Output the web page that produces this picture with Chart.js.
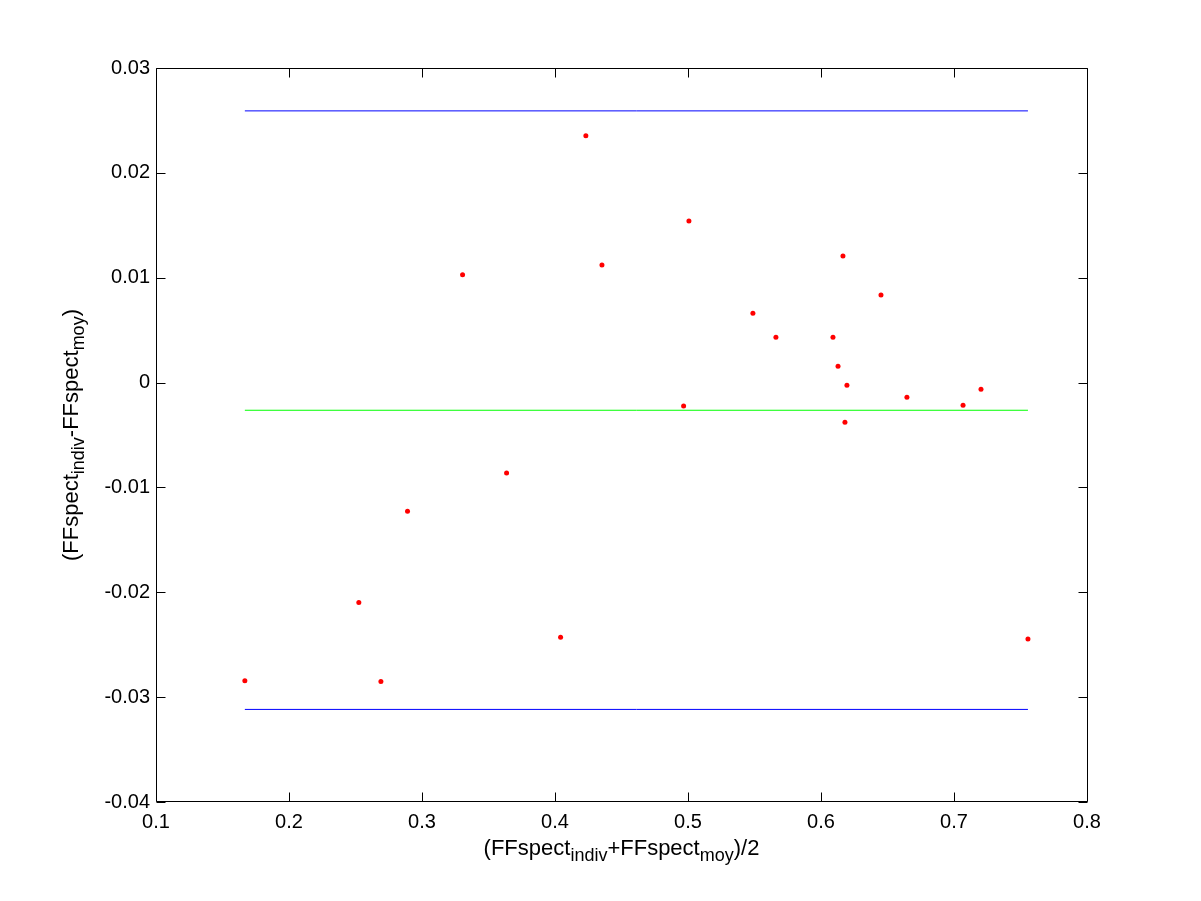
<!DOCTYPE html>
<html>
<head>
<meta charset="utf-8">
<script src="https://cdn.jsdelivr.net/npm/chart.js@4.4.1/dist/chart.umd.min.js"></script>
<style>
body{margin:0;background:#fff;}
canvas{display:block;}
</style>
</head>
<body>
<canvas id="baChart" width="1201" height="901"></canvas>
<script>
// mean of the two measurements (x) and their difference (y)
const meanVals = [0.1668,0.2525,0.2691,0.2891,0.3305,0.3636,0.4042,0.4232,0.4353,0.4967,0.5007,0.5488,
  0.5661,0.6090,0.6128,0.6165,0.6180,0.6195,0.6451,0.6646,0.7068,0.7203,0.7556];
const diffVals = [-0.02843,-0.02098,-0.02852,-0.01226,0.01028,-0.00863,-0.02429,0.02353,0.01121,-0.00223,0.01541,0.00662,
  0.00433,0.00433,0.00156,0.01206,-0.00379,-0.00026,0.00834,-0.00140,-0.00217,-0.00064,-0.02445];

const biasVal = -0.00264;
const upperLimit = 0.02591;
const lowerLimit = -0.03117;

const xTickVals = [0.1,0.2,0.3,0.4,0.5,0.6,0.7,0.8];
const xTickLabels = ['0.1','0.2','0.3','0.4','0.5','0.6','0.7','0.8'];
const yTickVals = [-0.04,-0.03,-0.02,-0.01,0,0.01,0.02,0.03];
const yTickLabels = ['-0.04','-0.03','-0.02','-0.01','0','0.01','0.02','0.03'];

const xTitle = [['(FFspect',false],['indiv',true],['+FFspect',false],['moy',true],[')/2',false]];
const yTitle = [['(FFspect',false],['indiv',true],['-FFspect',false],['moy',true],[')',false]];

const FONT = '"Liberation Sans", Arial, Helvetica, sans-serif';

const xMin = Math.min(...meanVals);
const xMax = Math.max(...meanVals);

function hline(v){
  return [{x:xMin,y:v},{x:xMax,y:v}];
}

function drawTitle(c, parts, size, subSize, subDrop){
  let w = 0;
  parts.forEach(p => {
    c.font = (p[1] ? subSize : size) + 'px ' + FONT;
    w += c.measureText(p[0]).width;
  });
  let x = -w/2;
  parts.forEach(p => {
    c.font = (p[1] ? subSize : size) + 'px ' + FONT;
    c.fillText(p[0], x, p[1] ? subDrop : 0);
    x += c.measureText(p[0]).width;
  });
}

const frame = {
  id:'frame',
  afterDatasetsDraw(chart){
    const c = chart.ctx;
    const a = chart.chartArea;
    const sx = chart.scales.x, sy = chart.scales.y;
    const L = Math.round(a.left)+0.5, R = Math.round(a.right)+0.5;
    const T = Math.round(a.top)+0.5, B = Math.round(a.bottom)-0.5;
    c.save();
    c.strokeStyle = '#000';
    c.lineWidth = 1;
    c.beginPath();
    c.rect(L, T, R-L, B-T);
    xTickVals.forEach(v => {
      const px = Math.round(sx.getPixelForValue(v))+0.5;
      c.moveTo(px,B); c.lineTo(px,B-9);
      c.moveTo(px,T); c.lineTo(px,T+9);
    });
    yTickVals.forEach(v => {
      const py = Math.round(sy.getPixelForValue(v))+0.5;
      c.moveTo(L,py); c.lineTo(L+9,py);
      c.moveTo(R,py); c.lineTo(R-9,py);
    });
    c.stroke();

    // axis titles with subscripts
    c.fillStyle = '#000';
    c.textBaseline = 'alphabetic';
    c.textAlign = 'left';
    c.save();
    c.translate((a.left+a.right)/2, 855);
    drawTitle(c, xTitle, 22, 18, 6);
    c.restore();
    c.save();
    c.translate(78, (a.top+a.bottom)/2);
    c.rotate(-Math.PI/2);
    drawTitle(c, yTitle, 22, 18, 6);
    c.restore();
    c.restore();
  }
};

const ctx = document.getElementById('baChart');

new Chart(ctx, {
  type:'scatter',
  data:{
    datasets:[
      {
        data: meanVals.map((v,i) => ({x:v, y:diffVals[i]})),
        pointStyle:'circle',
        pointRadius:2.5,
        pointBackgroundColor:'#ff0000',
        pointBorderWidth:0,
        order:0
      },
      {
        data: hline(upperLimit),
        showLine:true, borderColor:'#0000ff', borderWidth:1, pointRadius:0, order:1
      },
      {
        data: hline(biasVal),
        showLine:true, borderColor:'#00ff00', borderWidth:1, pointRadius:0, order:1
      },
      {
        data: hline(lowerLimit),
        showLine:true, borderColor:'#0000ff', borderWidth:1, pointRadius:0, order:1
      }
    ]
  },
  options:{
    responsive:false,
    animation:false,
    devicePixelRatio:1,
    layout:{padding:{top:68,right:114,bottom:0,left:0}},
    plugins:{legend:{display:false},tooltip:{enabled:false}},
    scales:{
      x:{
        type:'linear',
        min:0.1, max:0.8,
        afterBuildTicks: s => { s.ticks = xTickVals.map(v => ({value:v})); },
        afterFit: s => { s.height = 99; },
        ticks:{
          callback:(v,i) => xTickLabels[i],
          font:{family:FONT, size:20},
          color:'#000',
          maxRotation:0,
          autoSkip:false,
          padding:8
        },
        grid:{display:false, drawTicks:false},
        border:{display:false}
      },
      y:{
        type:'linear',
        min:-0.04, max:0.03,
        afterBuildTicks: s => { s.ticks = yTickVals.map(v => ({value:v})); },
        afterFit: s => { s.width = 156; },
        ticks:{
          callback:(v,i) => yTickLabels[i],
          font:{family:FONT, size:20},
          color:'#000',
          autoSkip:false,
          padding:6
        },
        grid:{display:false, drawTicks:false},
        border:{display:false}
      }
    }
  },
  plugins:[frame]
});
</script>
</body>
</html>
